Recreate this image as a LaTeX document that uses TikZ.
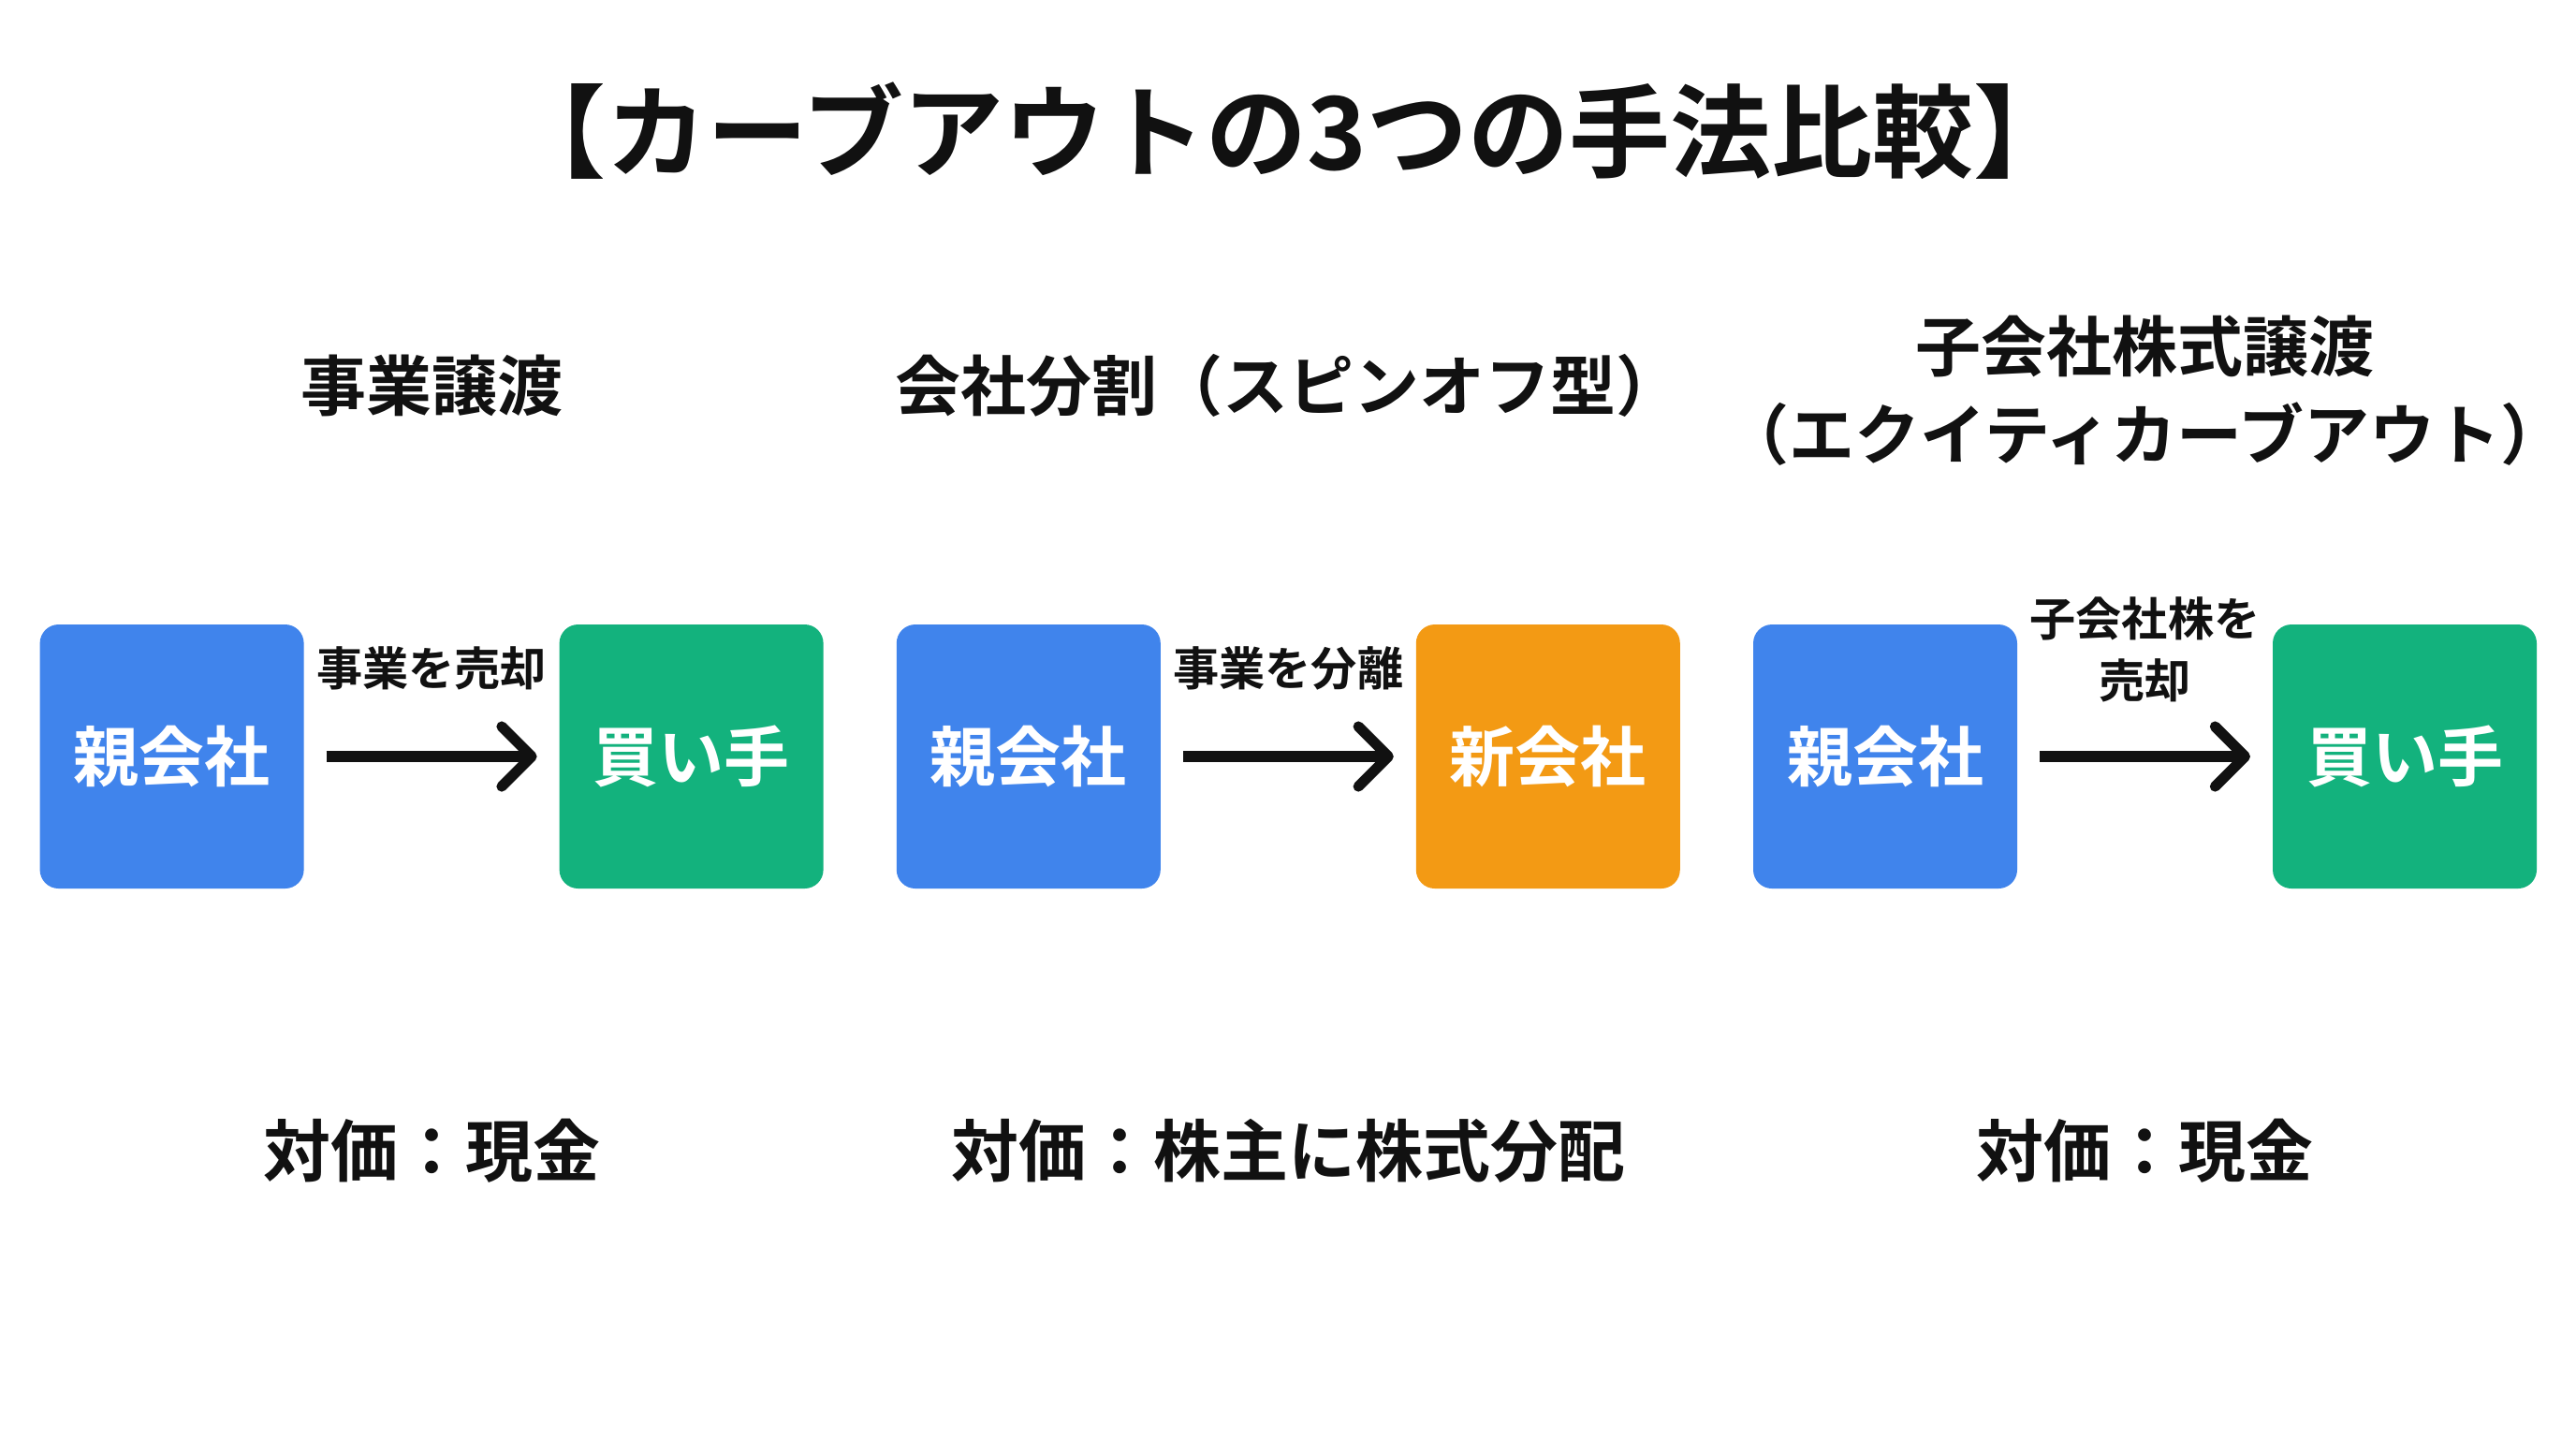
\documentclass[tikz,border=0pt]{standalone}
\usepackage{fontspec}
\setmainfont{Noto Sans CJK JP}[BoldFont={* Bold}]
\usetikzlibrary{arrows.meta, positioning, calc}
\definecolor{BoxBlue}{RGB}{64,132,236}
\definecolor{BoxGreen}{RGB}{19,178,125}
\definecolor{BoxOrange}{RGB}{243,154,20}
\definecolor{InkBlack}{RGB}{17,17,17}
\tikzset{
  firm/.style={minimum width=70.5pt, minimum height=70.5pt, rounded corners=5pt, text=white, inner sep=0pt, outer sep=0pt, font=\bfseries\fontsize{17.5}{21}\selectfont},
  flow/.style={line width=2.8pt, draw=InkBlack, -{Straight Barb[length=8pt,width=16pt,line cap=round,line join=round]}, shorten <=6pt, shorten >=6pt},
  flowlbl/.style={font=\bfseries\fontsize{12.3}{16.6}\selectfont, align=center, inner sep=0pt, text=InkBlack},
  heading/.style={font=\bfseries\fontsize{17.5}{23.7}\selectfont, align=center, text=InkBlack},
  price/.style={font=\bfseries\fontsize{18}{22}\selectfont, text=InkBlack}
}
\begin{document}
\begin{tikzpicture}
\useasboundingbox[fill=white] (0,0) rectangle (688pt,-384pt);
\node[font=\bfseries\fontsize{27}{31}\selectfont, text=InkBlack] (title) at (344.5pt,-35pt) {【カーブアウトの3つの手法比較】};
% 事業譲渡
\node[firm, fill=BoxBlue] (P1) at (45.9pt,-202pt) {親会社};
\node[firm, fill=BoxGreen, right=68.25pt of P1] (B1) {買い手};
\draw[flow] (P1) -- node[flowlbl, above=16.3pt] (L1) {事業を売却} (B1);
\coordinate (G1) at ($(P1)!0.5!(B1)$);
\node[heading] (H1) at ($(G1)+(0,99pt)$) {事業譲渡};
\node[price] (C1) at ($(G1)+(0,-105.3pt)$) {対価：現金};
% 会社分割
\node[firm, fill=BoxBlue, right=19.55pt of B1] (P2) {親会社};
\node[firm, fill=BoxOrange, right=68.25pt of P2] (N2) {新会社};
\draw[flow] (P2) -- node[flowlbl, above=16.3pt] (L2) {事業を分離} (N2);
\coordinate (G2) at ($(P2)!0.5!(N2)$);
\node[heading] (H2) at ($(G2)+(0,99pt)$) {会社分割（スピンオフ型）};
\node[price] (C2) at ($(G2)+(0,-105.3pt)$) {対価：株主に株式分配};
% 子会社株式譲渡
\node[firm, fill=BoxBlue, right=19.55pt of N2] (P3) {親会社};
\node[firm, fill=BoxGreen, right=68.25pt of P3] (B3) {買い手};
\draw[flow] (P3) -- node[flowlbl, above=13pt] (L3) {子会社株を\\売却} (B3);
\coordinate (G3) at ($(P3)!0.5!(B3)$);
\node[heading] (H3) at ($(G3)+(0,97.7pt)$) {子会社株式譲渡\\（エクイティカーブアウト）};
\node[price] (C3) at ($(G3)+(0,-105.3pt)$) {対価：現金};
\end{tikzpicture}
\end{document}
